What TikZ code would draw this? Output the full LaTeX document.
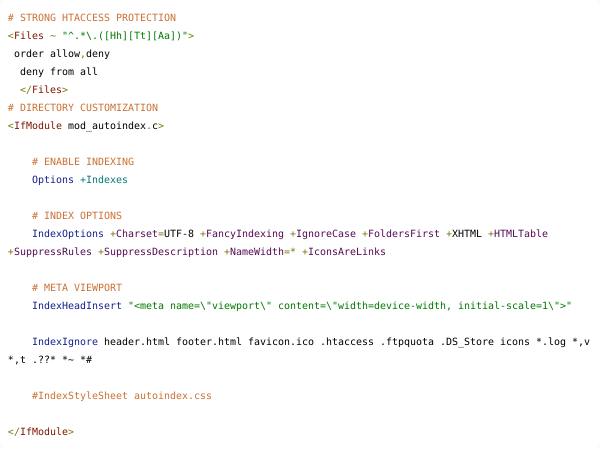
\documentclass[tikz,border=0pt]{standalone}
\usepackage{fontspec}
\newfontfamily\codefont[Ligatures=NoCommon]{DejaVu Sans Mono}
\definecolor{ccom}{RGB}{204,112,52}
\definecolor{ctag}{RGB}{128,20,0}
\definecolor{cpun}{RGB}{120,120,0}
\definecolor{cstr}{RGB}{0,120,0}
\definecolor{cdir}{RGB}{20,30,140}
\definecolor{cteal}{RGB}{0,120,120}
\definecolor{copt}{RGB}{85,10,85}
\definecolor{ctxt}{RGB}{0,0,0}
\newcommand\Ccom[1]{\textcolor{ccom}{#1}}
\newcommand\Ctag[1]{\textcolor{ctag}{#1}}
\newcommand\Cpun[1]{\textcolor{cpun}{#1}}
\newcommand\Cstr[1]{\textcolor{cstr}{#1}}
\newcommand\Cdir[1]{\textcolor{cdir}{#1}}
\newcommand\Cteal[1]{\textcolor{cteal}{#1}}
\newcommand\Copt[1]{\textcolor{copt}{#1}}
\begin{document}
\begin{tikzpicture}[x=1pt,y=-1pt,
  codeline/.style={anchor=base west,inner sep=0pt,outer sep=0pt,text=ctxt,
    font=\codefont\fontsize{9.97pt}{12pt}\selectfont}]
\useasboundingbox (0,0) rectangle (600,448);
\fill[black!2] (0,0) rectangle (600,448);
\fill[white,rounded corners=6pt] (0,0) rectangle (600,448);
% baseline of line i: 21 + 18*(i-1); x = 8 + 6*indent
\node[codeline] (l1)  at (8,21)  {\Ccom{\# STRONG HTACCESS PROTECTION}};
\node[codeline] (l2)  at (8,39)  {\Cpun{<}\Ctag{Files} \Cpun{\textasciitilde} \Cstr{"\textasciicircum.*\textbackslash.([Hh][Tt][Aa])"}\Cpun{>}};
\node[codeline] (l3)  at (14,57) {order allow\Cpun{,}deny};
\node[codeline] (l4)  at (20,75) {deny from all};
\node[codeline] (l5)  at (20,93) {\Cpun{</}\Ctag{Files}\Cpun{>}};
\node[codeline] (l6)  at (8,111) {\Ccom{\# DIRECTORY CUSTOMIZATION}};
\node[codeline] (l7)  at (8,129) {\Cpun{<}\Ctag{IfModule} mod\_autoindex\Cpun{.}c\Cpun{>}};
\node[codeline] (l9)  at (32,165) {\Ccom{\# ENABLE INDEXING}};
\node[codeline] (l10) at (32,183) {\Cdir{Options} \Cteal{+Indexes}};
\node[codeline] (l12) at (32,219) {\Ccom{\# INDEX OPTIONS}};
\node[codeline] (l13) at (32,237) {\Cdir{IndexOptions} \Cpun{+}\Copt{Charset}\Cpun{=}UTF-8 \Cpun{+}\Copt{FancyIndexing} \Cpun{+}\Copt{IgnoreCase} \Cpun{+}\Copt{FoldersFirst} \Cpun{+}XHTML \Cpun{+}\Copt{HTMLTable}};
\node[codeline] (l14) at (8,255) {\Cpun{+}\Copt{SuppressRules} \Cpun{+}\Copt{SuppressDescription} \Cpun{+}\Copt{NameWidth}\Cpun{=*} \Cpun{+}\Copt{IconsAreLinks}};
\node[codeline] (l16) at (32,291) {\Ccom{\# META VIEWPORT}};
\node[codeline] (l17) at (32,309) {\Cdir{IndexHeadInsert} \Cstr{"<meta name=\textbackslash"viewport\textbackslash" content=\textbackslash"width=device-width, initial-scale=1\textbackslash">"}};
\node[codeline] (l19) at (32,345) {\Cdir{IndexIgnore} header.html footer.html favicon.ico .htaccess .ftpquota .DS\_Store icons *.log *,v};
\node[codeline] (l20) at (8,363) {*,t .??* *\textasciitilde{} *\#};
\node[codeline] (l22) at (32,399) {\Ccom{\#IndexStyleSheet autoindex.css}};
\node[codeline] (l24) at (8,435) {\Cpun{</}\Ctag{IfModule}\Cpun{>}};
\end{tikzpicture}
\end{document}
